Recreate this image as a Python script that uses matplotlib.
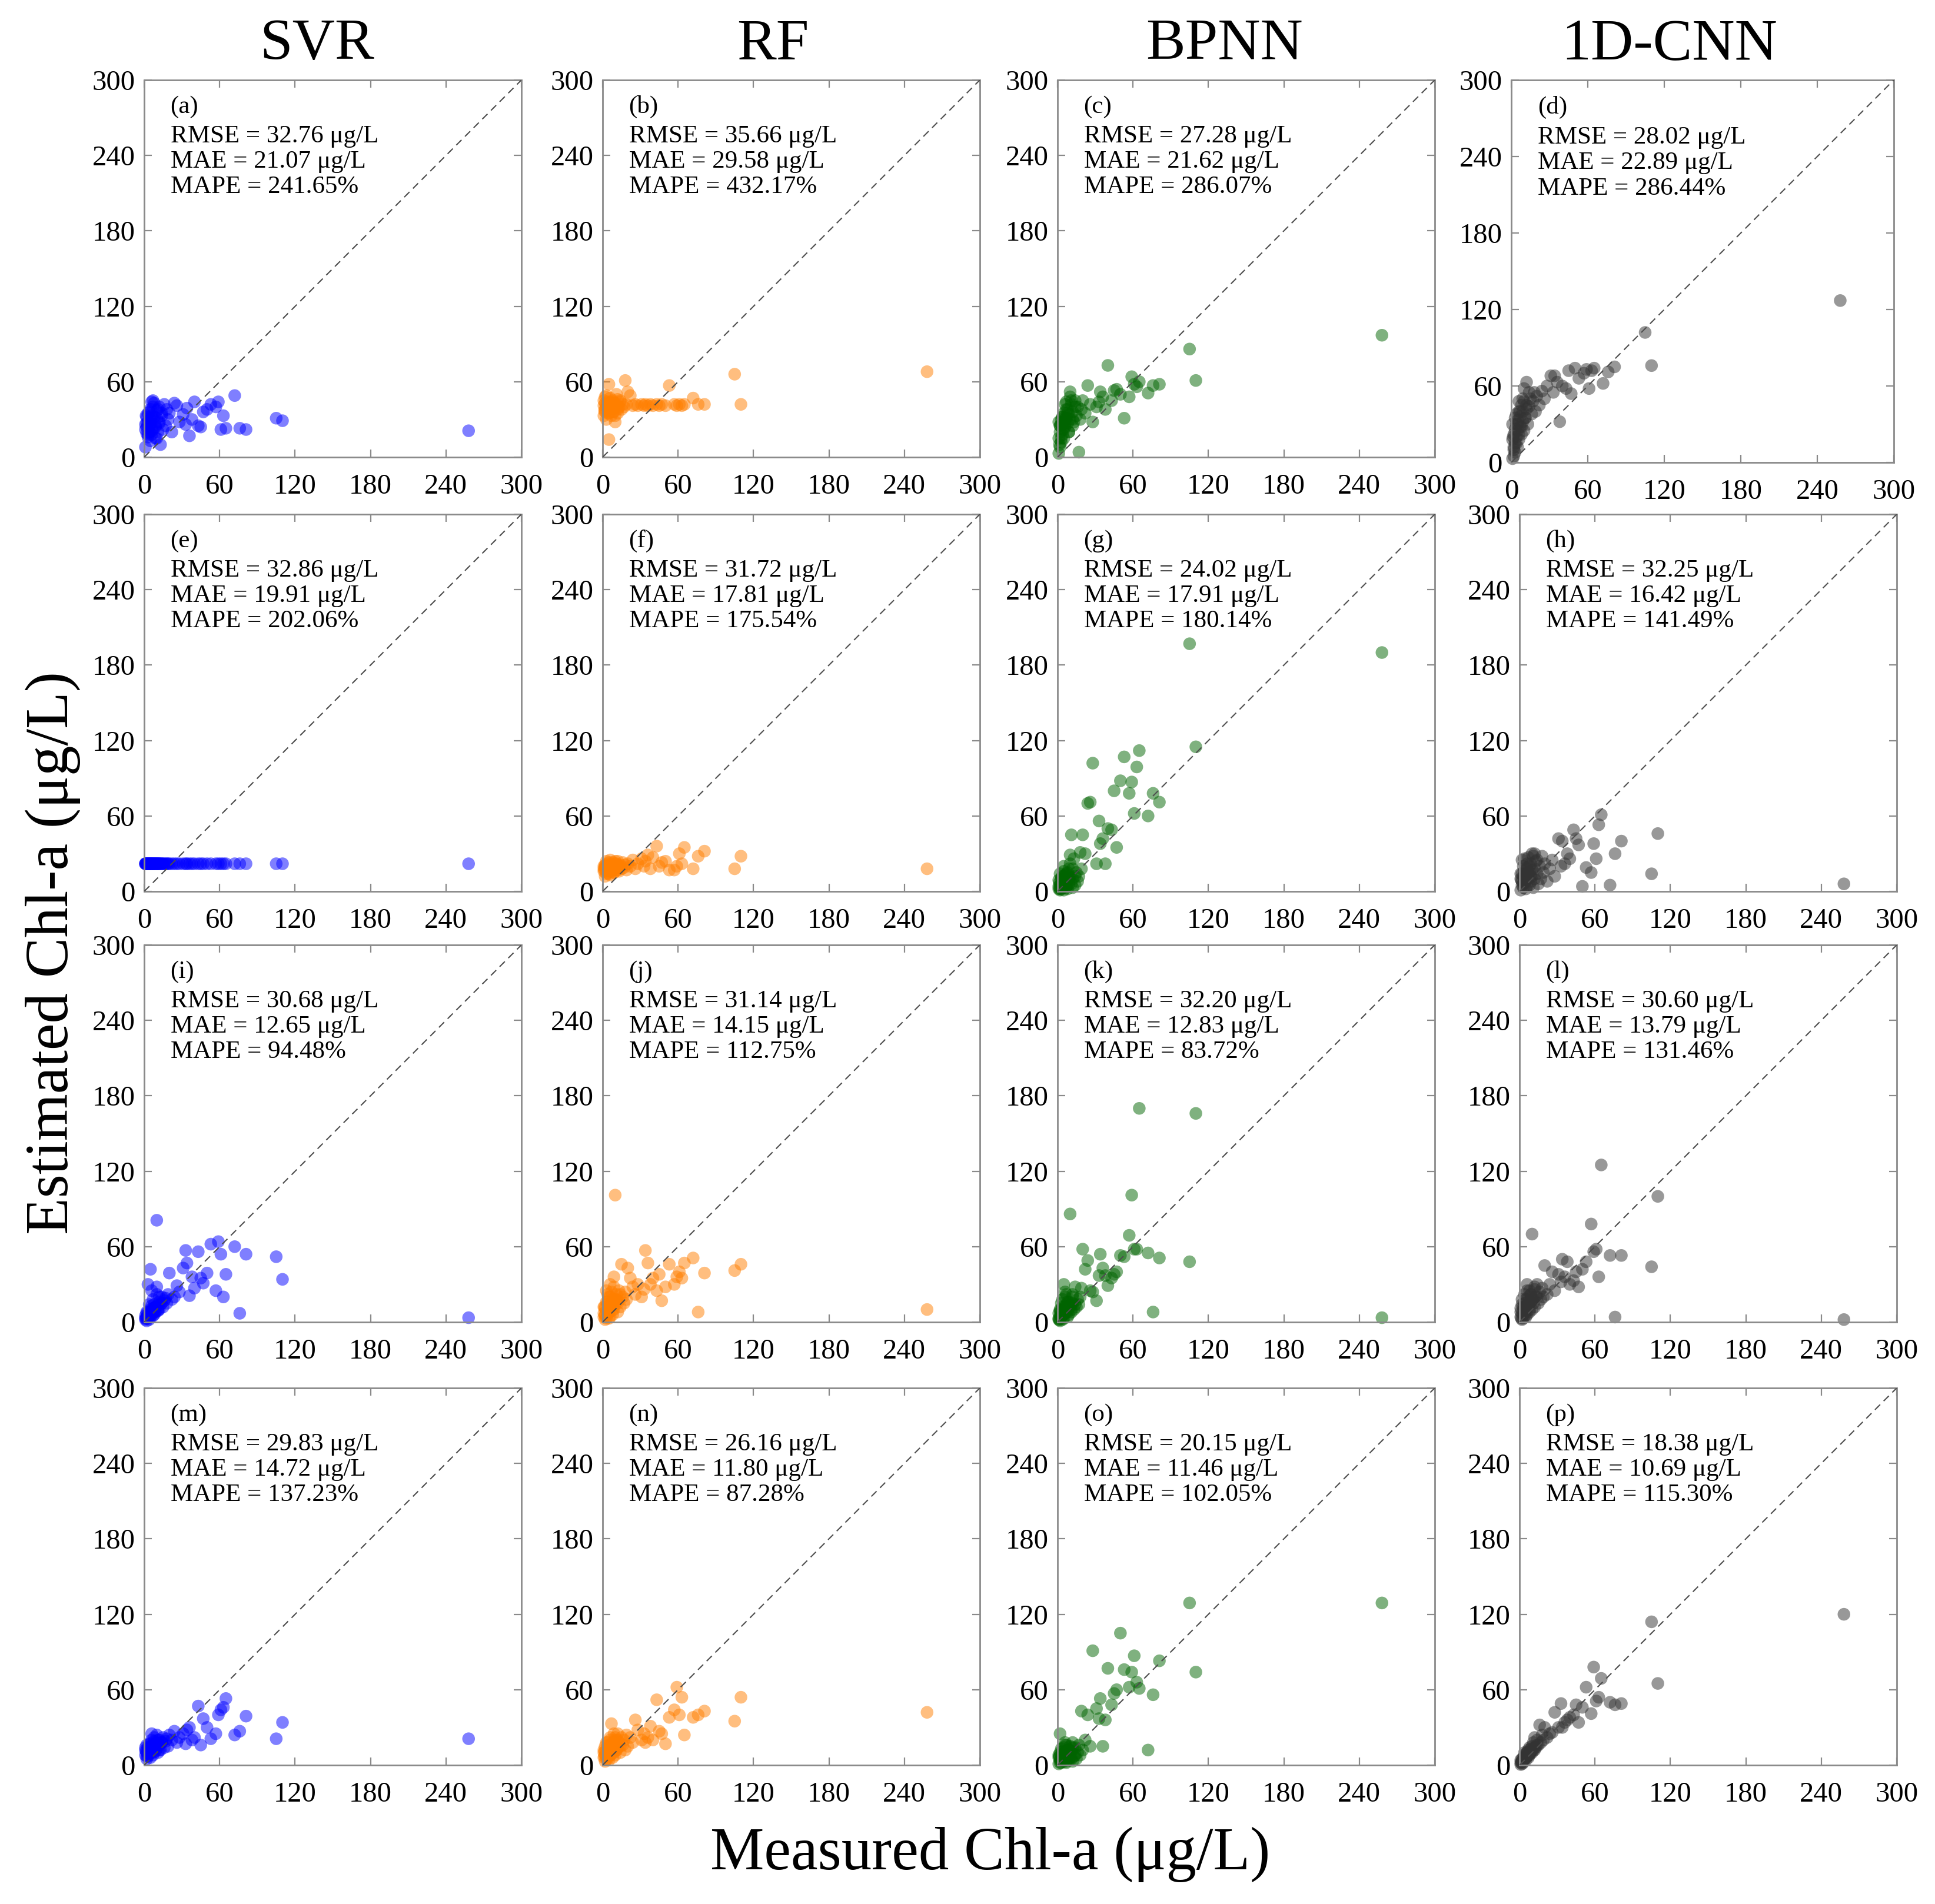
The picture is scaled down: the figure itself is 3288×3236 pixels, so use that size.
import matplotlib
matplotlib.use('Agg')
import matplotlib.pyplot as plt

plt.rcParams['font.family'] = ['Liberation Serif', 'DejaVu Serif']

# ---------------- data ----------------
measured = [
    258, 110, 105, 81, 76, 72, 65, 63, 61, 59,
    57, 53, 50, 47, 45, 43, 40, 38, 36, 34,
    33, 31, 28, 26, 24, 22, 20, 19, 18, 17,
    16, 15, 14, 13, 12, 12, 11, 10, 10, 9,
    9, 8, 8, 7, 7, 6, 6, 5, 5, 5,
    4, 4, 4, 3, 3, 3, 2, 2, 2, 1, 1, 1,
    14, 12, 11, 9, 8, 7, 6, 5, 4, 3, 2, 1.5, 6, 10,
]

# Row 1
est_a = [21, 29, 31, 22, 23, 49, 23, 33, 22, 44,
         40, 42, 38, 36, 24, 25, 44, 30, 17, 39,
         26, 34, 28, 41, 43, 20, 35, 30, 38, 25,
         42, 22, 33, 10, 27, 40, 20, 31, 37, 24,
         15, 29, 43, 45, 22, 33, 18, 27, 38, 13,
         25, 31, 20, 35, 28, 16, 24, 32, 19, 8, 26, 22,
         35, 28, 38, 25, 32, 40, 21, 30, 36, 18, 27, 33, 44, 15]
est_b = [68, 42, 66, 42, 42, 47, 42, 41, 42, 41,
         42, 57, 41, 42, 41, 42, 41, 42, 41, 42,
         41, 42, 41, 42, 41, 49, 52, 42, 61, 40,
         42, 38, 44, 40, 35, 46, 41, 28, 43, 39,
         42, 36, 45, 40, 33, 43, 41, 58, 14, 38,
         42, 35, 44, 49, 30, 40, 38, 43, 36, 41, 45, 33,
         45, 38, 50, 36, 44, 40, 47, 35, 39, 42, 48, 37, 43, 33]
est_c = [97, 61, 86, 58, 57, 51, 60, 56, 58, 64,
         48, 31, 50, 54, 53, 45, 73, 38, 48, 52,
         44, 40, 28, 42, 57, 35, 45, 38, 30, 4,
         40, 33, 45, 28, 36, 25, 42, 52, 30, 34,
         20, 38, 27, 31, 44, 24, 30, 15, 35, 28,
         22, 32, 18, 26, 12, 30, 20, 25, 8, 3, 28, 15,
         40, 30, 45, 20, 35, 38, 27, 22, 32, 15, 25, 10, 42, 48]
est_d = [127, 76, 102, 75, 71, 62, 74, 72, 58, 73,
         70, 66, 74, 54, 72, 58, 60, 32, 63, 68,
         55, 68, 60, 50, 56, 45, 52, 40, 55, 48,
         38, 50, 44, 30, 63, 42, 35, 48, 25, 40,
         32, 45, 22, 36, 28, 40, 18, 33, 25, 12,
         30, 20, 38, 15, 26, 8, 22, 12, 5, 18, 30, 3,
         55, 45, 35, 50, 28, 40, 22, 30, 15, 35, 10, 20, 48, 58]
# Row 2
est_e = [22, 22, 22, 22, 22, 22, 22, 22, 22, 22,
         22, 22, 22, 22, 22, 22, 22, 22, 22, 22,
         22, 22, 22, 22, 22, 22, 22, 22, 22, 22,
         22, 22, 22, 22, 22, 22, 22, 22, 22, 22,
         22, 22, 22, 22, 22, 22, 22, 22, 22, 22,
         22, 22, 22, 22, 22, 22, 22, 22, 22, 22, 22, 22,
         22, 22, 22, 22, 22, 22, 22, 22, 22, 22, 22, 22, 22, 22]
est_f = [18, 28, 18, 32, 28, 18, 35, 22, 30, 20,
         17, 17, 24, 23, 20, 36, 27, 18, 29, 24,
         20, 26, 22, 18, 25, 20, 22, 17, 21, 19,
         23, 18, 21, 16, 20, 24, 19, 17, 22, 15,
         20, 18, 23, 16, 21, 19, 25, 17, 14, 20,
         18, 22, 15, 20, 17, 24, 19, 12, 21, 16, 18, 20,
         20, 17, 22, 15, 19, 21, 16, 23, 18, 14, 20, 17, 13, 24]
est_g = [190, 115, 197, 71, 78, 60, 112, 99, 62, 87,
         78, 107, 88, 35, 80, 49, 50, 22, 42, 38,
         56, 22, 102, 71, 70, 30, 45, 18, 31, 12,
         8, 15, 5, 26, 10, 3, 45, 29, 12, 6,
         18, 2, 9, 14, 4, 11, 7, 1, 16, 5,
         8, 12, 3, 6, 10, 2, 14, 5, 1, 4, 9, 2,
         12, 18, 6, 10, 15, 3, 8, 20, 5, 11, 2, 7, 13, 22]
est_h = [6, 46, 14, 40, 30, 5, 61, 53, 26, 38,
         15, 19, 4, 37, 42, 49, 26, 30, 22, 40,
         20, 42, 12, 25, 18, 8, 22, 15, 28, 10,
         20, 6, 14, 24, 10, 30, 3, 17, 12, 8,
         22, 5, 15, 10, 27, 4, 18, 9, 13, 2,
         16, 7, 11, 20, 3, 12, 8, 25, 5, 14, 1, 10,
         25, 18, 28, 12, 20, 15, 22, 10, 26, 6, 14, 9, 19, 30]
# Row 3
est_i = [3.5, 34, 52, 54, 7, 60, 38, 20, 54, 64,
         25, 62, 39, 31, 35, 56, 27, 36, 21, 47,
         57, 43, 24, 29, 20, 18, 39, 22, 15, 19,
         17, 12, 20, 14, 10, 16, 9, 28, 81, 12,
         8, 14, 6, 11, 5, 9, 13, 42, 4, 7,
         5, 8, 2, 30, 6, 3, 4, 1, 7, 2, 3, 5,
         15, 20, 10, 12, 8, 18, 6, 10, 14, 4, 8, 3, 25, 22]
est_j = [10, 46, 41, 39, 8, 51, 47, 35, 40, 36,
         30, 46, 28, 17, 38, 25, 35, 30, 47, 57,
         26, 20, 30, 22, 28, 35, 43, 18, 24, 15,
         20, 46, 12, 25, 17, 8, 22, 101, 14, 36,
         10, 18, 6, 15, 24, 4, 12, 20, 8, 3,
         14, 6, 22, 9, 3, 16, 5, 11, 2, 7, 12, 4,
         22, 15, 18, 28, 10, 14, 20, 8, 16, 25, 6, 12, 30, 18]
est_k = [3.5, 166, 48, 51, 8, 55, 170, 58, 58, 101,
         69, 52, 53, 40, 38, 35, 29, 37, 43, 54,
         37, 17, 24, 25, 49, 42, 58, 27, 20, 14,
         18, 12, 28, 10, 15, 22, 8, 86, 13, 6,
         11, 16, 4, 9, 14, 7, 20, 30, 3, 10,
         6, 12, 2, 8, 15, 4, 10, 1, 5, 3, 7, 2,
         14, 20, 10, 16, 8, 22, 12, 6, 18, 4, 9, 2, 24, 13]
est_l = [2, 100, 44, 53, 4, 53, 125, 36, 58, 56,
         78, 48, 42, 28, 40, 33, 30, 48, 36, 50,
         32, 38, 25, 40, 30, 22, 45, 20, 27, 18,
         24, 15, 30, 20, 12, 26, 18, 70, 10, 22,
         16, 8, 25, 14, 20, 6, 12, 18, 4, 10,
         15, 5, 22, 9, 12, 3, 18, 7, 2, 11, 4, 8,
         20, 28, 15, 22, 10, 16, 25, 8, 12, 6, 14, 3, 30, 18]
# Row 4
est_m = [21, 34, 21, 39, 27, 24, 53, 46, 44, 40,
         25, 21, 30, 37, 16, 47, 22, 20, 30, 28,
         17, 25, 22, 18, 27, 20, 24, 15, 21, 19,
         14, 22, 18, 12, 20, 16, 10, 24, 13, 17,
         11, 19, 14, 8, 16, 12, 20, 10, 15, 6,
         13, 9, 17, 11, 7, 14, 10, 16, 5, 12, 8, 14,
         18, 12, 20, 15, 22, 10, 14, 17, 9, 13, 7, 11, 25, 16]
est_n = [42, 54, 35, 43, 40, 38, 24, 54, 40, 62,
         44, 38, 17, 25, 27, 52, 20, 31, 22, 18,
         25, 20, 28, 36, 18, 22, 15, 24, 12, 20,
         16, 22, 10, 18, 14, 25, 12, 8, 20, 15,
         10, 18, 6, 33, 13, 8, 22, 12, 4, 16,
         9, 14, 5, 18, 7, 11, 3, 15, 8, 12, 6, 10,
         15, 20, 12, 25, 10, 16, 8, 14, 18, 5, 11, 7, 20, 22]
est_o = [129, 74, 129, 83, 56, 12, 61, 66, 87, 74,
         62, 76, 105, 60, 57, 48, 77, 36, 15, 53,
         37, 45, 91, 15, 40, 20, 12, 43, 8, 16,
         10, 5, 14, 7, 18, 3, 11, 6, 15, 9,
         4, 12, 8, 16, 2, 10, 6, 14, 3, 8,
         11, 5, 9, 13, 2, 7, 25, 4, 10, 6, 1, 8,
         8, 14, 5, 12, 10, 3, 16, 6, 9, 4, 2, 7, 18, 11]
est_p = [120, 65, 114, 49, 48, 50, 69, 54, 51, 78,
         41, 62, 46, 34, 48, 40, 38, 36, 34, 30,
         49, 30, 42, 26, 25, 22, 30, 20, 24, 18,
         32, 16, 20, 14, 22, 12, 18, 10, 15, 13,
         11, 14, 8, 12, 6, 10, 7, 9, 4, 6,
         7, 5, 10, 4, 6, 2, 5, 3, 1, 2, 4, 0.5,
         16, 14, 12, 10, 9, 8, 7, 6, 5, 4, 3, 2, 10, 13]

estimates = [est_a, est_b, est_c, est_d,
             est_e, est_f, est_g, est_h,
             est_i, est_j, est_k, est_l,
             est_m, est_n, est_o, est_p]

models = ['SVR', 'RF', 'BPNN', '1D-CNN']
model_colors = ['#0000FF', '#FF7F00', '#006400', '#333333']
panel_labels = ['(a)', '(b)', '(c)', '(d)', '(e)', '(f)', '(g)', '(h)',
                '(i)', '(j)', '(k)', '(l)', '(m)', '(n)', '(o)', '(p)']
rmse = ['32.76', '35.66', '27.28', '28.02',
        '32.86', '31.72', '24.02', '32.25',
        '30.68', '31.14', '32.20', '30.60',
        '29.83', '26.16', '20.15', '18.38']
mae = ['21.07', '29.58', '21.62', '22.89',
       '19.91', '17.81', '17.91', '16.42',
       '12.65', '14.15', '12.83', '13.79',
       '14.72', '11.80', '11.46', '10.69']
mape = ['241.65', '432.17', '286.07', '286.44',
        '202.06', '175.54', '180.14', '141.49',
        '94.48', '112.75', '83.72', '131.46',
        '137.23', '87.28', '102.05', '115.30']
ticks = [0, 60, 120, 180, 240, 300]

# ---------------- layout ----------------
W, H = 3288, 3236
fig = plt.figure(figsize=(W / 100, H / 100), dpi=100)

col_left = [245, 1024, 1797, 2582]
row_bottom = [777, 1515, 2247, 3000]
size = 641

grey = '#8a8a8a'

for idx in range(16):
    r, c = divmod(idx, 4)
    left, bottom, w, h = col_left[c], row_bottom[r], size, size
    if idx == 3:
        left, bottom, w, h = 2568, 786, 650, 650
    ax = fig.add_axes([left / W, 1 - bottom / H, w / W, h / H])
    ax.set_xlim(0, 300)
    ax.set_ylim(0, 300)
    ax.set_xticks(ticks)
    ax.set_yticks(ticks)
    ax.tick_params(direction='in', top=True, right=True, length=9.5,
                   width=1.6, color=grey, labelsize=35, labelcolor='black')
    ax.tick_params(axis='x', pad=20)
    ax.tick_params(axis='y', pad=11)
    for sp in ax.spines.values():
        sp.set_color(grey)
        sp.set_linewidth(2.0)
    ax.scatter(measured, estimates[idx], s=240, c=model_colors[c],
               alpha=0.5, edgecolors='none', zorder=2, clip_on=False)
    ax.plot([0, 300], [0, 300], linestyle=(0, (6, 4)), color='#4d4d4d',
            linewidth=1.5, zorder=3)
    tx = 0.0696
    fs = 31
    ax.text(tx, 0.912, panel_labels[idx], transform=ax.transAxes,
            fontsize=fs, ha='left', va='baseline')
    ax.text(tx, 0.834, 'RMSE = ' + rmse[idx] + ' μg/L', transform=ax.transAxes,
            fontsize=fs, ha='left', va='baseline')
    ax.text(tx, 0.768, 'MAE = ' + mae[idx] + ' μg/L', transform=ax.transAxes,
            fontsize=fs, ha='left', va='baseline')
    ax.text(tx, 0.700, 'MAPE = ' + mape[idx] + '%', transform=ax.transAxes,
            fontsize=fs, ha='left', va='baseline')

# column titles
title_x = [539, 1313, 2080, 2837]
for name, x in zip(models, title_x):
    fig.text(x / W, 1 - 100 / H, name, fontsize=72, ha='center', va='baseline')

fig.text(1683 / W, 1 - 3177 / H, 'Measured Chl-a (μg/L)', fontsize=74,
         ha='center', va='baseline')
fig.text(115 / W, 1 - 1620 / H, 'Estimated Chl-a (μg/L)', fontsize=74,
         ha='center', va='baseline', rotation=90, rotation_mode='anchor')

fig.savefig('out.png', dpi=100, facecolor='white')
